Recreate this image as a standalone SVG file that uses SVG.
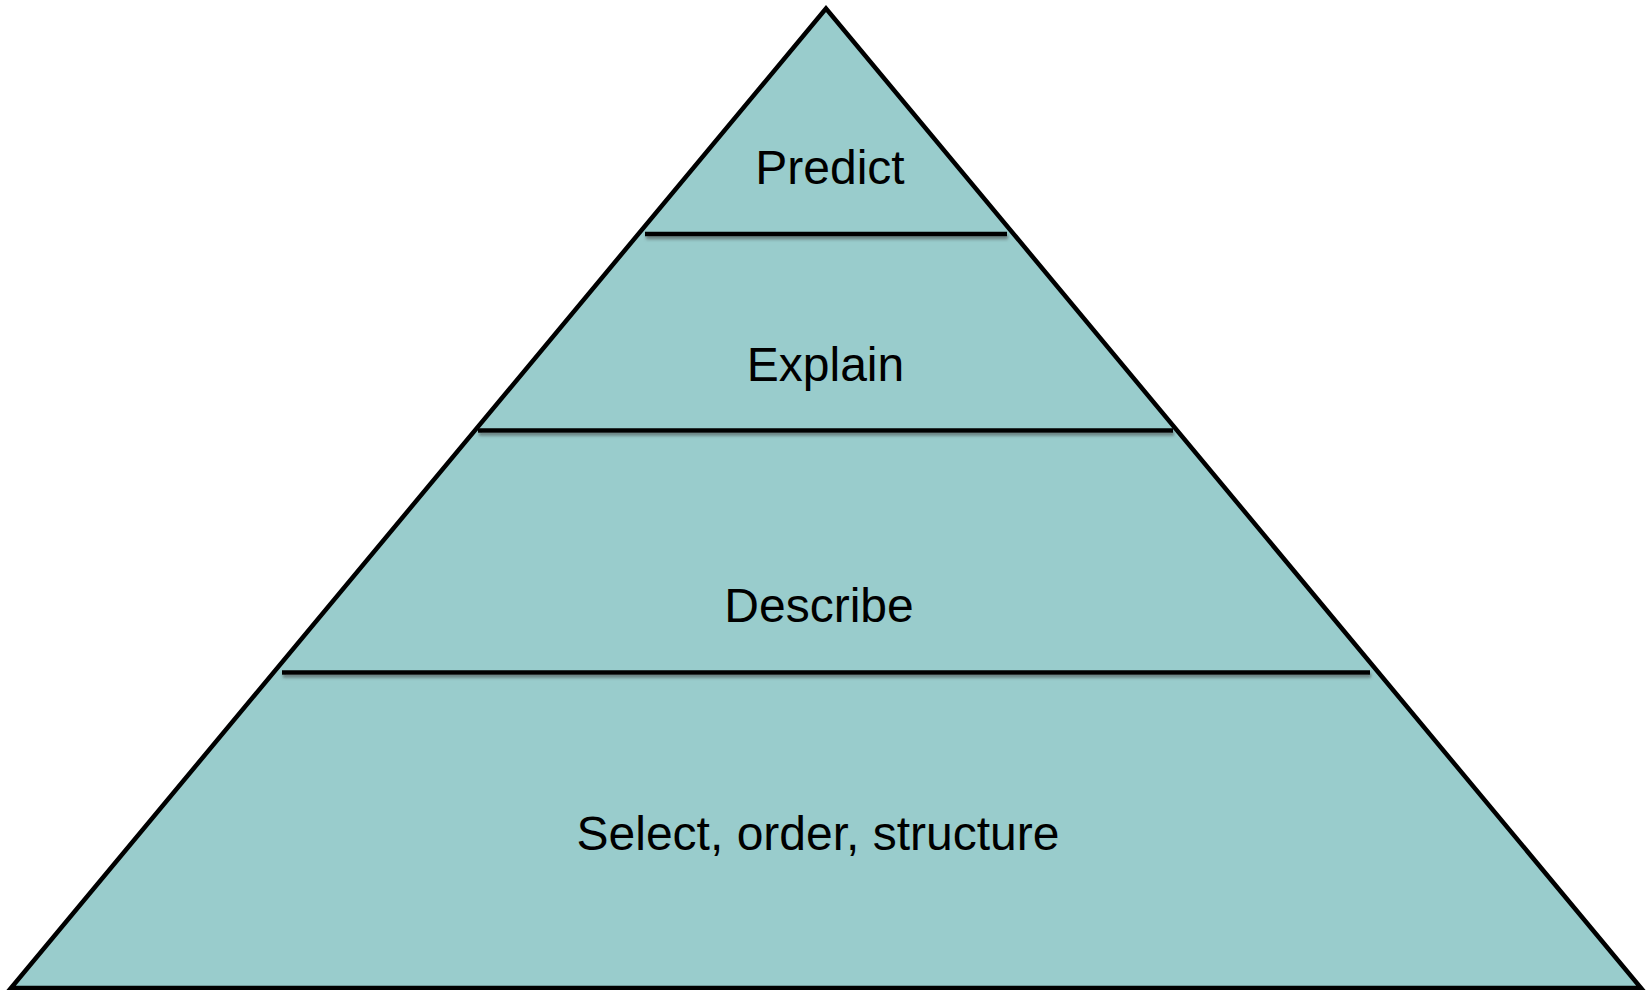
<svg xmlns="http://www.w3.org/2000/svg" width="1649" height="990" viewBox="0 0 1649 990">
<defs>
<filter id="sh" filterUnits="userSpaceOnUse" x="0" y="0" width="1649" height="990">
<feDropShadow dx="1" dy="3" stdDeviation="1.6" flood-color="#404040" flood-opacity="0.55"/>
</filter>
</defs>
<style>
.lbl{font-family:"Liberation Sans",Arial,sans-serif;font-size:48px;fill:#000;text-anchor:middle}
.div{stroke:#000;stroke-width:4.5;stroke-linecap:butt;fill:none}
</style>
<rect width="1649" height="990" fill="#fff"/>
<g id="pyramid">
<polygon points="826,8.5 11,988 1641,988" fill="#99CCCC" stroke="#000" stroke-width="4.5" stroke-linejoin="miter"/>
</g>
<g id="connectors" filter="url(#sh)">
<line class="div" x1="645" y1="234" x2="1007" y2="234"/>
<line class="div" x1="478" y1="430.5" x2="1173" y2="430.5"/>
<line class="div" x1="282" y1="672.5" x2="1370" y2="672.5"/>
</g>
<g id="predict"><text class="lbl" x="830" y="184">Predict</text></g>
<g id="explain"><text class="lbl" x="825.5" y="381">Explain</text></g>
<g id="describe"><text class="lbl" x="819" y="622">Describe</text></g>
<g id="select"><text class="lbl" x="818" y="850">Select, order, structure</text></g>
</svg>
